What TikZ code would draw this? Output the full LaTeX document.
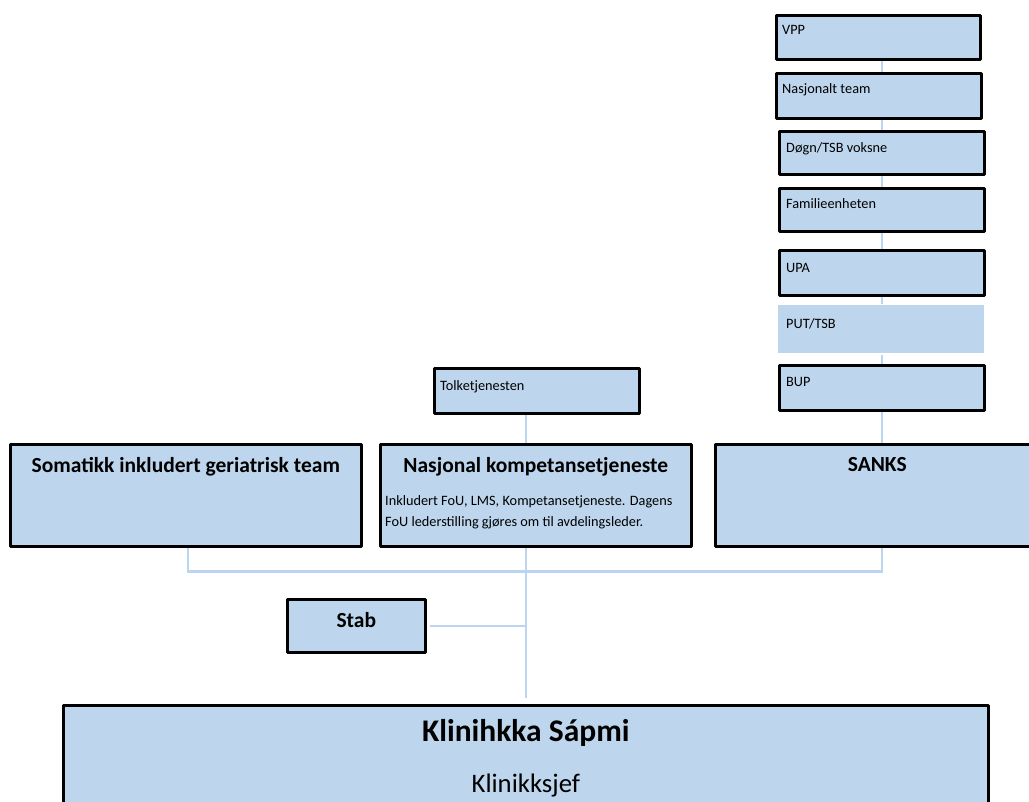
\documentclass[tikz,border=0pt]{standalone}
\usepackage{fontspec}
\setmainfont{Carlito}
\usetikzlibrary{backgrounds}

\definecolor{unitfill}{RGB}{190,214,237}
\definecolor{linkblue}{RGB}{186,213,240}

\tikzset{
	unit/.style={draw=black, line width=2.6pt, fill=unitfill, anchor=north west, inner sep=0pt},
	link/.style={draw=linkblue, line width=2.6pt},
	small/.style={font=\fontsize{14.3}{18}\selectfont, anchor=north west, inner sep=0pt, xshift=7pt, yshift=-11pt},
	head/.style={font=\fontsize{21.5}{25}\selectfont\bfseries, anchor=north, inner sep=0pt},
}

\begin{document}
\begin{tikzpicture}[x=1pt, y=-1pt, line join=round]
	\useasboundingbox (0,0) rectangle (1029,802);
	\coordinate (rcol) at (882,0);

	% right column
	\node[unit, minimum width=204pt, minimum height=44pt, label={[small]north west:VPP}] (vpp) at (775,14) {};
	\node[unit, minimum width=205pt, minimum height=45pt, label={[small]north west:Nasjonalt team}] (team) at (775,72) {};
	\node[unit, minimum width=205pt, minimum height=43pt, label={[small, xshift=1pt, yshift=-1pt]north west:Døgn/TSB voksne}] (dogn) at (778,130) {};
	\node[unit, minimum width=205pt, minimum height=43pt, label={[small, xshift=1pt]north west:Familieenheten}] (fam) at (778,187) {};
	\node[unit, minimum width=205pt, minimum height=45pt, label={[small, xshift=1pt, yshift=-3pt]north west:UPA}] (upa) at (778,249) {};
	\node[unit, draw=none, minimum width=206pt, minimum height=48pt, label={[small, xshift=2pt, yshift=-3pt]north west:PUT/TSB}] (put) at (777,304) {};
	\node[unit, minimum width=205pt, minimum height=45pt, label={[small, xshift=1pt, yshift=-2pt]north west:BUP}] (bup) at (778,364) {};

	% middle row
	\node[unit, minimum width=205pt, minimum height=45pt, label={[small, yshift=-2pt]north west:Tolketjenesten}] (tolk) at (433,367) {};
	\node[unit, minimum width=351pt, minimum height=102pt, label={[head, yshift=-14pt]north:Somatikk inkludert geriatrisk team}] (soma) at (9,443) {};
	\node[unit, minimum width=311pt, minimum height=102pt,
		label={[head, yshift=-14pt]north:Nasjonal kompetansetjeneste},
		label={[small, font=\fontsize{14.3}{21.5}\selectfont, align=left, xshift=-1pt, yshift=-41pt]north west:{Inkludert FoU, LMS, Kompetansetjeneste. Dagens\\FoU lederstilling gjøres om til avdelingsleder.}}] (nasj) at (379,443) {};
	\node[unit, minimum width=324pt, minimum height=102pt, label={[head, yshift=-14pt]north:SANKS}] (sanks) at (714,443) {};

	% bottom
	\node[unit, minimum width=138pt, minimum height=53pt, label={[head, yshift=-14pt]north:Stab}] (stab) at (286,598) {};
	\node[unit, minimum width=925pt, minimum height=120pt,
		label={[head, font=\fontsize{31.5}{36}\selectfont\bfseries, yshift=-15pt]north:Klinihkka Sápmi},
		label={[head, font=\fontsize{26.7}{30}\selectfont, yshift=-70pt]north:Klinikksjef}] (klin) at (62,704) {};

	\begin{scope}[on background layer]
		\foreach \a/\b in {vpp/team, team/dogn, dogn/fam, fam/upa, upa/put, put/bup, bup/sanks}{
			\draw[link] (\a.south -| rcol) -- (\b.north -| rcol);
		}
		\draw[link] (tolk.south -| klin.north) -- (nasj.north -| klin.north);
		\draw[link] ([xshift=2pt]soma.south) -- ++(0,24) -| (sanks.south -| rcol);
		\draw[link] (nasj.south -| klin.north) -- ([yshift=6pt]klin.north);
		\draw[link] ([xshift=3pt]stab.east) -- (stab.east -| klin.north);
	\end{scope}
\end{tikzpicture}
\end{document}
